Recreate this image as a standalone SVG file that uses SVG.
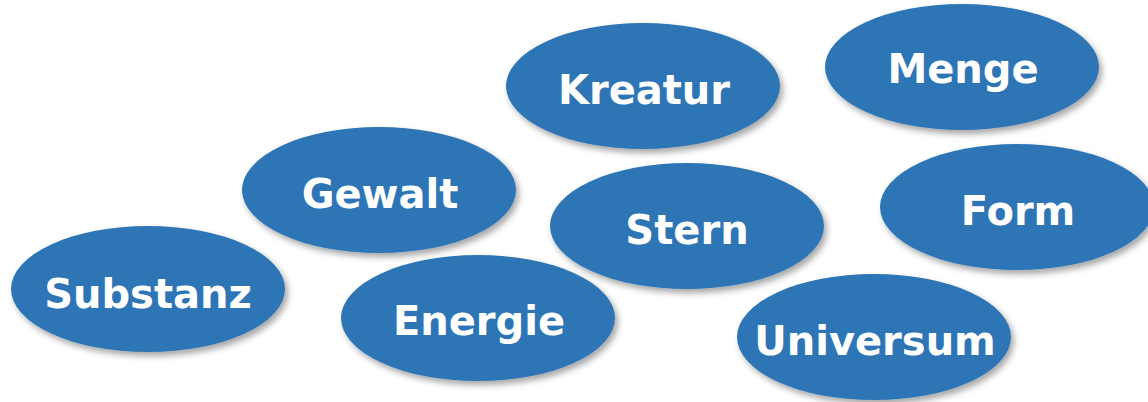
<svg xmlns="http://www.w3.org/2000/svg" width="1148" height="402" viewBox="0 0 1148 402">
<defs>
<filter id="sh" x="-20%" y="-20%" width="140%" height="150%">
<feDropShadow dx="3" dy="4" stdDeviation="3" flood-color="#000" flood-opacity="0.35"/>
</filter>
<style>
.n ellipse{fill:#2E75B6;filter:url(#sh)}
.n text{fill:#fff;font-family:"DejaVu Sans",Verdana,sans-serif;font-weight:bold;font-size:40px;text-anchor:middle}
</style>
</defs>
<rect width="1148" height="402" fill="#fff"/>
<g id="connectors"></g>
<g id="kreatur" class="n"><ellipse cx="643" cy="86" rx="137" ry="63"/><text x="644" y="104">Kreatur</text></g>
<g id="menge" class="n"><ellipse cx="962" cy="67" rx="137" ry="63"/><text x="963" y="83">Menge</text></g>
<g id="gewalt" class="n"><ellipse cx="379" cy="190" rx="137" ry="63"/><text x="380" y="208">Gewalt</text></g>
<g id="form" class="n"><ellipse cx="1017" cy="207" rx="137" ry="63"/><text x="1018" y="225">Form</text></g>
<g id="stern" class="n"><ellipse cx="687" cy="226" rx="137" ry="63"/><text x="687" y="244">Stern</text></g>
<g id="substanz" class="n"><ellipse cx="148" cy="289" rx="137" ry="63"/><text x="148" y="308">Substanz</text></g>
<g id="energie" class="n"><ellipse cx="478" cy="318" rx="137" ry="63"/><text x="479" y="335">Energie</text></g>
<g id="universum" class="n"><ellipse cx="874" cy="337" rx="137" ry="63"/><text x="875" y="355">Universum</text></g>
</svg>
